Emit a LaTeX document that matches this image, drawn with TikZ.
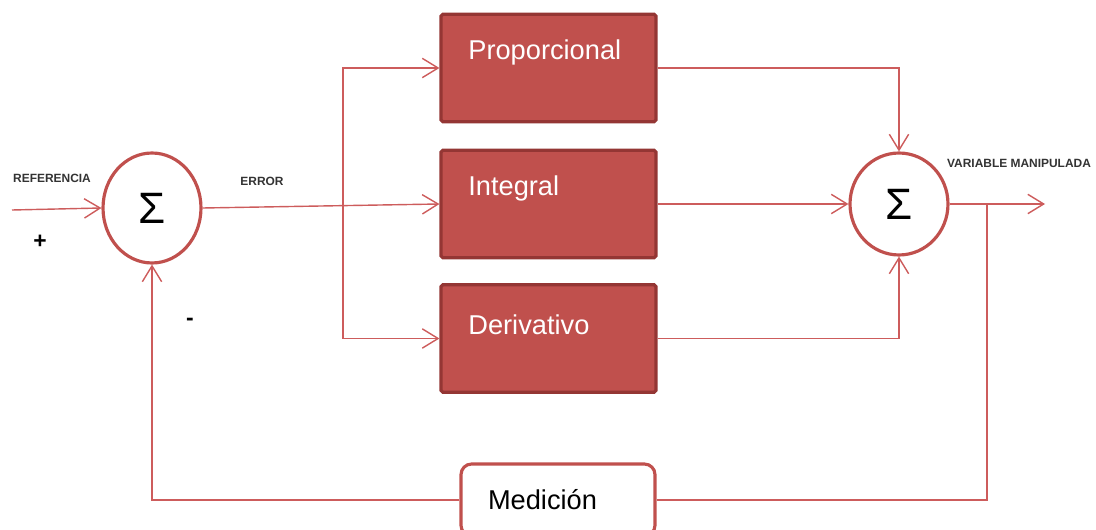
\documentclass[tikz,border=0pt]{standalone}
\usepackage{fontspec}
\setmainfont{Liberation Sans}
\usetikzlibrary{arrows.meta,shapes.geometric}
\definecolor{pidred}{HTML}{C0504D}
\definecolor{piddark}{HTML}{943634}
\definecolor{pidline}{HTML}{CD5C5C}

\begin{document}
\begin{tikzpicture}[x=0.02cm, y=-0.02cm,
	line/.style={pidline, line width=0.8pt},
	flow/.style={line, -{Straight Barb[length=9pt, width=11pt, line width=0.8pt]}},
	sumnode/.style={ellipse, draw=pidred, line width=1.8pt, fill=white, font=\fontsize{25}{25}\selectfont},
	block/.style={rectangle, draw=piddark, line width=1.8pt, fill=pidred, minimum width=4.3cm, minimum height=2.15cm, rounded corners=1pt},
	blocktext/.style={anchor=west, text=white, font=\fontsize{15.5}{18}\selectfont, inner sep=0pt},
	tag/.style={font=\fontsize{6.8}{7}\selectfont\bfseries, text=black!80},
	sign/.style={font=\fontsize{13}{14}\selectfont\bfseries}]
	\clip (0, 0) rectangle (1096, 530);

	% sumadores
	\node[sumnode, minimum width=1.96cm, minimum height=2.2cm] (s1) at (152, 208) {Σ};
	\node[sumnode, minimum width=1.96cm, minimum height=2.04cm] (s2) at (899, 204) {Σ};

	% bloques P, I, D
	\node[block] (P) at (548.5, 68) {};
	\node[block] (I) at (548.5, 204) {};
	\node[block] (D) at (548.5, 338.5) {};
	\node[blocktext] (Pt) at (468, 52) {Proporcional};
	\node[blocktext] (It) at (468, 188) {Integral};
	\node[blocktext] (Dt) at (468, 325) {Derivativo};

	% medicion
	\node[rectangle, draw=pidred, line width=1.8pt, fill=white, rounded corners=6pt,
		text width=2.8cm, inner xsep=0.54cm, align=left,
		minimum height=1.44cm, font=\fontsize{15.5}{18}\selectfont] (M) at (558, 500) {Medici\'on};

	% etiquetas
	\node[tag] (ref) at (52, 178) {REFERENCIA};
	\node[tag] (err) at (262, 181) {ERROR};
	\node[tag] (vm) at (1019, 163) {VARIABLE MANIPULADA};
	\node[sign] (plus) at (40, 242) {+};
	\node[sign] (minus) at (190, 322) {-};

	\coordinate (in) at (12, 210);
	\coordinate (br) at (343, 205);
	\coordinate (tap) at (987, 204);
	\coordinate (out) at (1045, 204);

	% conexiones
	\draw[flow] (in) -- (s1.west);
	\draw[flow] (s1.east) -- (I.west);
	\draw[flow] (br) |- (P.west);
	\draw[flow] (br) |- (D.west);
	\draw[flow] (P.east) -| (s2.north);
	\draw[flow] (I.east) -- (s2.west);
	\draw[flow] (D.east) -| (s2.south);
	\draw[flow] (s2.east) -- (out);
	\draw[line] (tap) |- (M.east);
	\draw[flow] (M.west) -| (s1.south);
\end{tikzpicture}
\end{document}
